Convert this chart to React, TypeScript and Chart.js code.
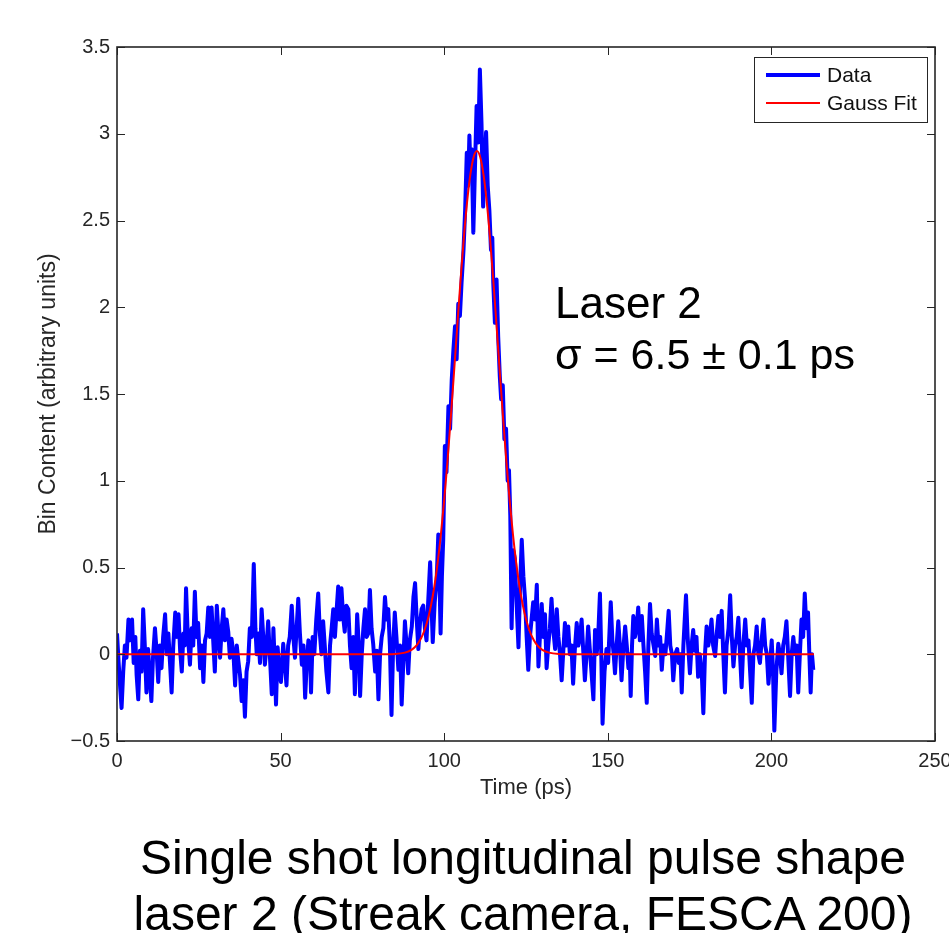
import React, { useEffect, useRef } from "react";
import { Chart, registerables } from "chart.js";

Chart.register(...registerables);

// [time (ps), bin content]
const dataSamples: [number, number][] = [
  [0, 0.12], [0.5, -0.05], [1.0, -0.2], [1.4, -0.31], [1.9, -0.1], [2.4, 0.05], [2.9, -0.02], [3.5, 0.2],
  [4.0, 0.08], [4.6, 0.2], [5.1, -0.05], [5.6, 0.1], [6.0, -0.12], [6.5, -0.26], [7.0, 0.02], [7.5, -0.1],
  [8.0, 0.26], [8.5, 0.05], [9.0, -0.22], [9.5, 0.03], [10.0, -0.12], [10.5, -0.27], [11.0, -0.02], [11.6, 0.15],
  [12.1, 0.02], [12.6, -0.16], [13.1, 0.05], [13.6, -0.08], [14.1, 0.1], [14.7, 0.23], [15.2, 0.0], [15.7, 0.12],
  [16.2, -0.05], [16.7, -0.22], [17.2, 0.05], [17.8, 0.24], [18.3, 0.1], [18.8, 0.23], [19.3, 0.02], [19.8, -0.1],
  [20.3, 0.12], [20.7, 0.05], [21.1, 0.38], [21.6, 0.12], [22.3, -0.06], [22.8, 0.15], [23.3, 0.05], [23.8, 0.36],
  [24.3, 0.1], [24.8, 0.18], [25.4, -0.08], [25.9, 0.05], [26.4, -0.16], [26.9, 0.08], [27.4, 0.12], [27.9, 0.27],
  [28.4, 0.1], [28.9, 0.27], [29.4, 0.08], [29.9, -0.1], [30.5, 0.28], [31.0, 0.12], [31.5, -0.02], [32.0, 0.15],
  [32.5, 0.26], [33.0, 0.08], [33.5, 0.2], [34.0, 0.13], [34.5, -0.02], [35.0, 0.09], [35.6, 0.0], [36.1, -0.18],
  [36.6, 0.05], [37.1, -0.04], [37.6, -0.12], [38.1, -0.27], [38.6, -0.15], [39.1, -0.36], [39.6, -0.1], [40.1, -0.04],
  [40.6, 0.15], [41.2, 0.1], [41.8, 0.52],
  [42.3, 0.15], [42.7, 0.0], [43.2, 0.12], [43.7, -0.05], [44.2, 0.26], [44.7, 0.1], [45.2, -0.06], [45.7, 0.05],
  [46.2, 0.19], [46.7, 0.0], [47.3, -0.23], [47.8, 0.15], [48.2, -0.05], [48.6, -0.29], [49.1, 0.04], [49.6, -0.1],
  [50.1, -0.16], [50.8, 0.06], [51.3, -0.05], [51.8, -0.18], [52.3, 0.05], [52.8, 0.1], [53.4, 0.28], [53.9, 0.1],
  [54.4, -0.02], [54.9, 0.15], [55.4, 0.32], [55.9, 0.12], [56.5, -0.06], [57.0, 0.05], [57.5, -0.25], [58.0, -0.05],
  [58.5, 0.08], [59.0, 0.0], [59.3, -0.22], [59.8, 0.1], [60.3, 0.0], [60.9, 0.2], [61.5, 0.35], [62.0, 0.12],
  [62.5, 0.0], [63.0, 0.19], [63.5, 0.05], [64.0, -0.1], [64.6, -0.22], [65.1, 0.05], [65.6, 0.15], [66.1, 0.26],
  [66.6, 0.1], [67.1, 0.25], [67.6, 0.39], [68.1, 0.2], [68.6, 0.38], [69.1, 0.22], [69.6, 0.13], [70.1, 0.28],
  [70.7, 0.26], [71.2, 0.05], [71.7, -0.08], [72.2, 0.1], [72.7, -0.23], [73.4, 0.23], [73.9, 0.05], [74.3, -0.24],
  [74.8, 0.0], [75.3, 0.15], [75.8, 0.26], [76.3, 0.1], [76.8, 0.12], [77.3, 0.37], [77.8, 0.15], [78.3, 0.06],
  [78.9, -0.1], [79.4, 0.02], [79.9, -0.26], [80.4, 0.0], [80.9, 0.1], [81.4, 0.15], [81.9, 0.33], [82.4, 0.2],
  [82.9, 0.26], [83.4, 0.05], [83.9, -0.35],
  [84.4, 0.05], [84.9, 0.24], [85.4, 0.1], [86.0, -0.09], [86.5, 0.05], [87.0, -0.29], [87.5, -0.05], [88.0, 0.19],
  [88.5, 0.05], [89.0, -0.11], [89.5, 0.08], [90.1, 0.16], [90.6, 0.33], [91.1, 0.41], [91.6, 0.2], [92.1, 0.03],
  [92.6, 0.18], [93.1, 0.26], [93.6, 0.28], [94.1, 0.15], [94.6, 0.08], [95.1, 0.3], [95.7, 0.53], [96.1, 0.3],
  [96.5, 0.07], [97.1, 0.3], [97.7, 0.43], [98.2, 0.69], [98.6, 0.4], [98.9, 0.12], [99.3, 0.45], [99.7, 0.66],
  [100.2, 1.2], [100.7, 1.05], [101.3, 1.43], [101.8, 1.3], [102.3, 1.58],
  [102.8, 1.75], [103.3, 1.89], [103.8, 1.7], [104.3, 2.02], [104.8, 1.95], [105.3, 2.14], [105.9, 2.33], [106.4, 2.56],
  [106.9, 2.89], [107.3, 2.7], [107.7, 2.99], [108.1, 2.75], [108.4, 2.91], [108.9, 2.43], [109.4, 2.8], [109.9, 3.16],
  [110.4, 2.95], [110.9, 3.37], [111.4, 3.06], [111.9, 2.58], [112.3, 2.8], [112.8, 3.01], [113.3, 2.7], [113.8, 2.56],
  [114.3, 2.33], [114.7, 2.4], [115.0, 2.14], [115.5, 1.91], [116.0, 2.16], [116.5, 1.83],
  [117.0, 1.6], [117.4, 1.47], [117.9, 1.55], [118.4, 1.24], [118.9, 1.3], [119.4, 1.0], [119.8, 1.06], [120.2, 0.8],
  [120.6, 0.15], [121.1, 0.6], [121.6, 0.55], [122.0, 0.35], [122.7, 0.04], [123.2, 0.4], [123.7, 0.66], [124.2, 0.45],
  [124.7, 0.32], [125.2, 0.1], [125.7, -0.09], [126.2, 0.1], [126.7, 0.2], [127.2, 0.3], [127.8, 0.2], [128.3, 0.4],
  [128.8, -0.07], [129.3, 0.12], [129.8, 0.29], [130.3, 0.1], [130.8, 0.23], [131.3, -0.08], [131.8, 0.05], [132.3, 0.15],
  [132.8, 0.32], [133.3, 0.15], [133.9, 0.03], [134.4, 0.26], [134.9, 0.1], [135.4, 0.0], [135.9, -0.15], [136.4, 0.02],
  [136.9, 0.18], [137.4, 0.05], [137.9, 0.16], [138.4, 0.0], [138.9, 0.05], [139.4, -0.17], [139.9, 0.02], [140.5, 0.18],
  [141.0, 0.05], [141.5, 0.1], [142.0, 0.2], [142.5, 0.02], [143.0, -0.15], [143.5, 0.0], [144.0, 0.16], [144.5, 0.03],
  [145.0, -0.1], [145.6, -0.26], [146.1, 0.14], [146.6, 0.0], [147.1, 0.12], [147.6, 0.35], [148.0, 0.0], [148.4, -0.4],
  [149.0, -0.1], [149.6, 0.03], [150.1, -0.05], [150.5, 0.12], [150.9, 0.3], [151.4, 0.08], [151.8, 0.0], [152.2, -0.11],
  [152.7, 0.05], [153.2, 0.19], [153.7, 0.05], [154.2, -0.15], [154.7, 0.02], [155.3, 0.16], [155.8, 0.05], [156.3, -0.08],
  [156.7, 0.0], [157.0, -0.24], [157.4, 0.05], [157.8, 0.22], [158.3, 0.1], [158.8, 0.15], [159.3, 0.27], [159.8, 0.08],
  [160.4, 0.22], [160.9, 0.05], [161.4, -0.1], [161.9, -0.28], [162.4, 0.05], [162.9, 0.29], [163.4, 0.12], [164.0, 0.05],
  [164.5, -0.01], [165.0, 0.2], [165.5, 0.05], [166.0, 0.1], [166.5, -0.09], [167.0, 0.05], [167.6, 0.0], [168.1, 0.12],
  [168.6, 0.25], [169.1, 0.05], [169.6, 0.0], [170.0, -0.15], [170.6, 0.0], [171.2, 0.03], [171.7, -0.05], [172.2, 0.0],
  [172.6, -0.22], [173.1, 0.05], [173.9, 0.34], [174.4, 0.1], [175.1, -0.11], [175.6, 0.05], [176.1, 0.14], [176.6, 0.02],
  [177.1, 0.1], [177.6, -0.13], [178.1, 0.0], [178.7, -0.1], [179.2, -0.34], [179.7, 0.0], [180.2, 0.16], [180.7, 0.05],
  [181.2, 0.1], [181.7, 0.2], [182.2, 0.05], [182.8, -0.01], [183.3, 0.12], [183.8, 0.22], [184.3, 0.1], [184.8, 0.25],
  [185.3, 0.0], [185.8, -0.22], [186.3, 0.05], [186.9, 0.15], [187.4, 0.34], [187.9, 0.1], [188.4, -0.07], [188.9, 0.05],
  [189.4, 0.1], [189.9, 0.21], [190.4, 0.0], [190.9, -0.19], [191.4, 0.05], [192.0, 0.2], [192.5, 0.05], [193.0, 0.08],
  [193.5, -0.1], [194.0, -0.28], [194.5, 0.0], [195.0, 0.05], [195.5, 0.16], [196.0, 0.0], [196.5, -0.05], [197.1, 0.1],
  [197.6, 0.2], [198.1, 0.05], [198.6, 0.0], [199.1, -0.17], [199.6, -0.05], [200.1, 0.08], [200.5, -0.1], [200.9, -0.44],
  [201.5, -0.1], [202.1, 0.06], [202.6, 0.0], [203.1, -0.11], [203.6, 0.05], [204.1, 0.1], [204.6, 0.19], [205.1, 0.0],
  [205.7, -0.24], [206.2, 0.0], [206.7, 0.1], [207.2, 0.0], [207.7, 0.05], [208.2, -0.22], [208.7, 0.0], [209.2, 0.2],
  [209.7, 0.1], [210.2, 0.35], [210.7, 0.15], [211.2, 0.24], [211.6, 0.0], [212.0, -0.22], [212.4, 0.0], [212.8, -0.09],
];

// Gaussian fit curve (peak 2.9 at 110 ps, sigma 6.5 ps), tabulated
const fitTimePs = [0, 80, 85, 88, 90, 91, 92, 93, 94, 95, 96, 97, 98, 99, 100, 101, 102, 103, 104, 105, 106, 107, 108, 109, 110,
  111, 112, 113, 114, 115, 116, 117, 118, 119, 120, 121, 122, 123, 124, 125, 126, 127, 128, 129, 130, 132, 135, 140, 213];
const fitContent = [0, 0.0001, 0.0018, 0.0094, 0.0255, 0.0405, 0.0627, 0.0949, 0.14, 0.202, 0.285, 0.392, 0.528, 0.693, 0.888,
  1.112, 1.36, 1.624, 1.894, 2.157, 2.4, 2.607, 2.766, 2.866, 2.9,
  2.866, 2.766, 2.607, 2.4, 2.157, 1.894, 1.624, 1.36, 1.112, 0.888, 0.693, 0.528, 0.392, 0.285, 0.202, 0.14, 0.0949, 0.0627,
  0.0405, 0.0255, 0.0094, 0.0018, 0.0001, 0];

const xTicks = [0, 50, 100, 150, 200, 250];
const yTicks = [-0.5, 0, 0.5, 1, 1.5, 2, 2.5, 3, 3.5];
const seriesLabels = ["Data", "Gauss Fit"];
const seriesColors = ["#0000ff", "#ff0000"];
const xTitle = "Time (ps)";
const yTitle = "Bin Content (arbitrary units)";
const annotationLines = ["Laser 2", "σ = 6.5 ± 0.1 ps"];
const captionLines = ["Single shot longitudinal pulse shape", "laser 2 (Streak camera, FESCA 200)"];

const FONT = "'Liberation Sans', Arial, Helvetica, sans-serif";
const AXIS_COLOR = "#262626";

const framePlugin = {
  id: "matlabFrame",
  afterDraw(chart: any) {
    const { ctx, chartArea } = chart;
    const { left, right, top, bottom } = chartArea;
    const xs = chart.scales.x;
    const ys = chart.scales.y;
    ctx.save();
    ctx.strokeStyle = AXIS_COLOR;
    ctx.lineWidth = 1;
    ctx.beginPath();
    for (const v of xTicks) {
      const px = Math.round(xs.getPixelForValue(v)) + 0.5;
      ctx.moveTo(px, bottom);
      ctx.lineTo(px, bottom - 8);
      ctx.moveTo(px, top);
      ctx.lineTo(px, top + 8);
    }
    for (const v of yTicks) {
      const py = Math.round(ys.getPixelForValue(v)) + 0.5;
      ctx.moveTo(left, py);
      ctx.lineTo(left + 8, py);
      ctx.moveTo(right, py);
      ctx.lineTo(right - 8, py);
    }
    ctx.stroke();
    ctx.lineWidth = 1.6;
    ctx.strokeRect(left, top, right - left, bottom - top);

    // legend box (inside, north-east)
    const lw = 173;
    const lh = 65;
    const lx = right - 8 - lw;
    const ly = top + 10;
    ctx.fillStyle = "#ffffff";
    ctx.fillRect(lx, ly, lw, lh);
    ctx.lineWidth = 1;
    ctx.strokeStyle = AXIS_COLOR;
    ctx.strokeRect(lx + 0.5, ly + 0.5, lw, lh);
    const rows = [ly + 18, ly + 46];
    chart.data.datasets
      .slice()
      .sort((a: any, b: any) => seriesLabels.indexOf(a.label) - seriesLabels.indexOf(b.label))
      .forEach((ds: any, i: number) => {
        ctx.strokeStyle = ds.borderColor;
        ctx.lineWidth = ds.borderWidth;
        ctx.beginPath();
        ctx.moveTo(lx + 12, rows[i]);
        ctx.lineTo(lx + 66, rows[i]);
        ctx.stroke();
        ctx.fillStyle = "#111111";
        ctx.font = `21px ${FONT}`;
        ctx.textBaseline = "middle";
        ctx.textAlign = "left";
        ctx.fillText(ds.label, lx + 73, rows[i] + 1);
      });
    ctx.restore();
  },
};

export default function App() {
  const canvasRef = useRef<HTMLCanvasElement | null>(null);

  useEffect(() => {
    const canvas = canvasRef.current;
    if (!canvas) return;
    const tickFont = { family: FONT, size: 20 };
    const chart = new Chart(canvas, {
      type: "line",
      data: {
        datasets: [
          {
            label: seriesLabels[1],
            data: fitTimePs.map((t, i) => ({ x: t, y: fitContent[i] })),
            borderColor: seriesColors[1],
            borderWidth: 2,
            pointRadius: 0,
            cubicInterpolationMode: "monotone",
            fill: false,
            order: 0,
          },
          {
            label: seriesLabels[0],
            data: dataSamples.map(([t, v]) => ({ x: t, y: v })),
            borderColor: seriesColors[0],
            borderWidth: 4,
            borderJoinStyle: "round",
            pointRadius: 0,
            tension: 0,
            fill: false,
            order: 1,
          },
        ],
      },
      options: {
        animation: false,
        responsive: false,
        events: [],
        layout: { padding: { left: 0, top: 47, right: 65, bottom: 122 } },
        plugins: {
          legend: { display: false },
          tooltip: { enabled: false },
          title: { display: false },
        },
        scales: {
          x: {
            type: "linear",
            min: 0,
            max: 250,
            afterBuildTicks: (s: any) => {
              s.ticks = xTicks.map((v) => ({ value: v }));
            },
            afterFit: (s: any) => {
              s.height = 70;
            },
            ticks: { font: tickFont, color: AXIS_COLOR, padding: 8, maxRotation: 0, autoSkip: false },
            grid: { display: false, drawTicks: false },
            border: { display: false },
            title: {
              display: true,
              text: xTitle,
              font: { family: FONT, size: 22 },
              color: AXIS_COLOR,
              padding: { top: 0, bottom: 10 },
            },
          },
          y: {
            type: "linear",
            min: -0.5,
            max: 3.5,
            afterBuildTicks: (s: any) => {
              s.ticks = yTicks.map((v) => ({ value: v }));
            },
            afterFit: (s: any) => {
              s.width = 117;
            },
            ticks: {
              font: tickFont,
              color: AXIS_COLOR,
              padding: 7,
              autoSkip: false,
              callback: (v: any) => String(v).replace("-", "\u2212"),
            },
            grid: { display: false, drawTicks: false },
            border: { display: false },
            title: {
              display: true,
              text: yTitle,
              font: { family: FONT, size: 23 },
              color: AXIS_COLOR,
              padding: { top: 35, bottom: 0 },
            },
          },
        },
      },
      plugins: [framePlugin],
    } as any);
    return () => chart.destroy();
  }, []);

  const textStyle: React.CSSProperties = {
    position: "absolute",
    fontFamily: FONT,
    color: "#000",
    whiteSpace: "nowrap",
    lineHeight: 1,
    margin: 0,
  };

  return (
    <div
      style={{
        position: "fixed",
        left: 0,
        top: 0,
        width: 949,
        height: 933,
        overflow: "hidden",
        background: "#fff",
      }}
    >
      <canvas ref={canvasRef} width={1000} height={933} style={{ position: "absolute", left: 0, top: 0, width: 1000, height: 933 }} />
      <div style={{ ...textStyle, left: 555, top: 281, fontSize: 44 }}>{annotationLines[0]}</div>
      <div style={{ ...textStyle, left: 555, top: 333, fontSize: 43 }}>{annotationLines[1]}</div>
      <div style={{ ...textStyle, left: 523, top: 834, fontSize: 48, transform: "translateX(-50%)" }}>{captionLines[0]}</div>
      <div style={{ ...textStyle, left: 523, top: 890, fontSize: 48, transform: "translateX(-50%)" }}>{captionLines[1]}</div>
    </div>
  );
}
